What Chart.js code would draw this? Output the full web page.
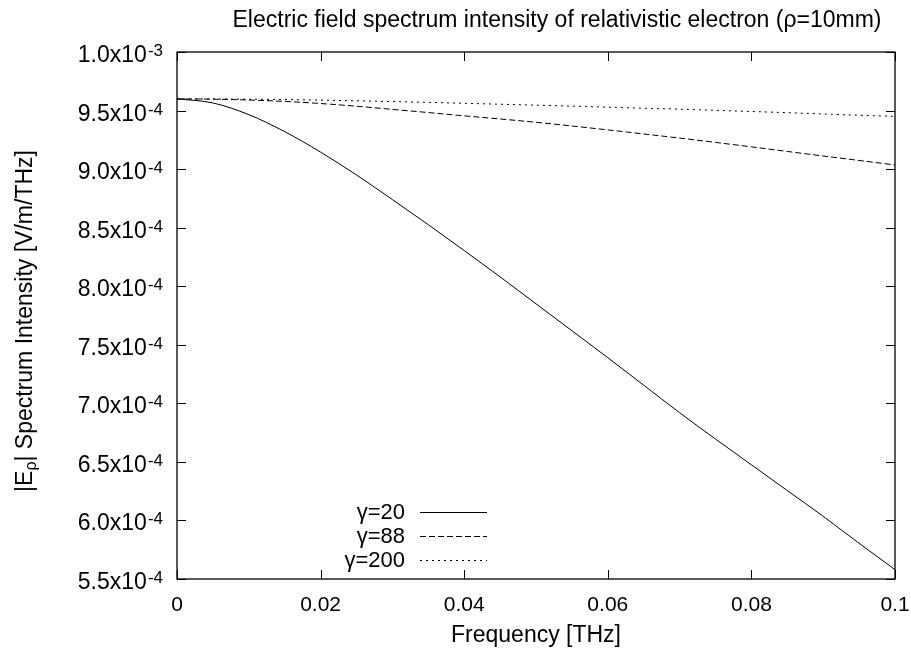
<!DOCTYPE html>
<html>
<head>
<meta charset="utf-8">
<script src="https://cdn.jsdelivr.net/npm/chart.js@4/dist/chart.umd.min.js"></script>
<style>
  html, body { margin: 0; padding: 0; background: #fff; }
  #wrap { width: 911px; height: 658px; }
</style>
</head>
<body>
<div id="wrap"><canvas id="chart" width="911" height="658"></canvas></div>
<script>
// frequency samples [THz]
const freq = [0, 0.005, 0.01, 0.015, 0.02, 0.025, 0.03, 0.035, 0.04, 0.045, 0.05,
              0.055, 0.06, 0.065, 0.07, 0.075, 0.08, 0.085, 0.09, 0.095, 0.1];
// |E_rho| [V/m/THz]
const gamma20  = [9.60e-4, 9.565e-4, 9.465e-4, 9.32e-4, 9.145e-4, 8.95e-4, 8.74e-4, 8.525e-4, 8.305e-4, 8.08e-4, 7.85e-4,
                  7.62e-4, 7.39e-4, 7.155e-4, 6.92e-4, 6.695e-4, 6.475e-4, 6.255e-4, 6.035e-4, 5.805e-4, 5.58e-4];
const gamma88  = [9.60e-4, 9.597e-4, 9.59e-4, 9.578e-4, 9.56e-4, 9.537e-4, 9.51e-4, 9.483e-4, 9.455e-4, 9.428e-4, 9.40e-4,
                  9.368e-4, 9.335e-4, 9.30e-4, 9.265e-4, 9.228e-4, 9.19e-4, 9.151e-4, 9.112e-4, 9.074e-4, 9.035e-4];
const gamma200 = [9.60e-4, 9.599e-4, 9.597e-4, 9.594e-4, 9.589e-4, 9.583e-4, 9.577e-4, 9.57e-4, 9.562e-4, 9.554e-4, 9.546e-4,
                  9.538e-4, 9.529e-4, 9.52e-4, 9.512e-4, 9.502e-4, 9.492e-4, 9.482e-4, 9.471e-4, 9.46e-4, 9.45e-4];
const seriesLabels = ['γ=20', 'γ=88', 'γ=200'];
const xTicks = [0, 0.02, 0.04, 0.06, 0.08, 0.1];

const FONT = "'Liberation Sans', Arial, Helvetica, sans-serif";

const toPoints = vals => freq.map((f, i) => ({ x: f, y: vals[i] }));

const dashes = [[], [6, 3], [2, 4]];

// gnuplot-like frame, mirrored ticks, labels and key
const gnuplotLook = {
    id: 'gnuplotLook',
    afterDraw(chart) {
        const { ctx, chartArea: a, scales: { x, y } } = chart;
        ctx.save();

        // frame
        ctx.strokeStyle = '#000';
        ctx.lineWidth = 1.3;
        ctx.setLineDash([]);
        ctx.strokeRect(a.left, a.top, a.right - a.left, a.bottom - a.top);

        // ticks, inward on all four sides
        ctx.lineWidth = 1;
        ctx.beginPath();
        y.ticks.forEach(t => {
            const py = Math.round(y.getPixelForValue(t.value)) + 0.5;
            ctx.moveTo(a.left, py); ctx.lineTo(a.left + 9, py);
            ctx.moveTo(a.right, py); ctx.lineTo(a.right - 9, py);
        });
        x.ticks.forEach(t => {
            const px = Math.round(x.getPixelForValue(t.value)) + 0.5;
            ctx.moveTo(px, a.bottom); ctx.lineTo(px, a.bottom - 9);
            ctx.moveTo(px, a.top); ctx.lineTo(px, a.top + 9);
        });
        ctx.stroke();

        ctx.fillStyle = '#000';

        // y tick labels with superscript exponent
        y.ticks.forEach(t => {
            const py = y.getPixelForValue(t.value);
            const parts = t.value.toExponential(1).split('e');
            const main = parts[0] + 'x10';
            const sup = String(parseInt(parts[1], 10));
            ctx.font = '17px ' + FONT;
            const supW = ctx.measureText(sup).width;
            ctx.textAlign = 'left';
            ctx.textBaseline = 'alphabetic';
            ctx.fillText(sup, 163 - supW, py + 4);
            ctx.font = '23px ' + FONT;
            ctx.textAlign = 'right';
            ctx.fillText(main, 163 - supW - 1, py + 10);
        });

        // title
        ctx.font = '23px ' + FONT;
        ctx.textAlign = 'center';
        ctx.textBaseline = 'middle';
        ctx.fillText('Electric field spectrum intensity of relativistic electron (ρ=10mm)', 557, 21);

        // x axis title
        ctx.font = '23px ' + FONT;
        ctx.fillText('Frequency [THz]', (a.left + a.right) / 2, 636);

        // y axis title with subscript rho
        ctx.save();
        ctx.translate(32, 321);
        ctx.rotate(-Math.PI / 2);
        const big = '23px ' + FONT, small = '16px ' + FONT;
        const p1 = '|E', p2 = 'ρ', p3 = '| Spectrum Intensity [V/m/THz]';
        ctx.font = big; const w1 = ctx.measureText(p1).width; const w3 = ctx.measureText(p3).width;
        ctx.font = small; const w2 = ctx.measureText(p2).width;
        let sx = -(w1 + w2 + w3) / 2;
        ctx.textAlign = 'left';
        ctx.textBaseline = 'alphabetic';
        ctx.font = big; ctx.fillText(p1, sx, 0); sx += w1;
        ctx.font = small; ctx.fillText(p2, sx, 4); sx += w2;
        ctx.font = big; ctx.fillText(p3, sx, 0);
        ctx.restore();

        // key
        const rows = [512, 536, 560];
        chart.data.datasets.forEach((ds, i) => {
            const ry = rows[i];
            ctx.font = '22px ' + FONT;
            ctx.textAlign = 'right';
            ctx.textBaseline = 'middle';
            ctx.fillText(ds.label, 405, ry + 1);
            ctx.strokeStyle = ds.borderColor;
            ctx.lineWidth = ds.borderWidth;
            ctx.setLineDash(ds.borderDash);
            ctx.beginPath();
            ctx.moveTo(420, ry + 0.5);
            ctx.lineTo(487, ry + 0.5);
            ctx.stroke();
        });

        ctx.restore();
    }
};

new Chart(document.getElementById('chart'), {
    type: 'line',
    data: {
        datasets: [gamma20, gamma88, gamma200].map((vals, i) => ({
            label: seriesLabels[i],
            data: toPoints(vals),
            borderColor: '#000',
            borderWidth: 1,
            borderDash: dashes[i],
            pointRadius: 0,
            fill: false,
            cubicInterpolationMode: 'monotone'
        }))
    },
    options: {
        responsive: false,
        animation: false,
        layout: { padding: { top: 52, right: 16, left: 0, bottom: 0 } },
        plugins: {
            legend: { display: false },
            title: { display: false },
            tooltip: { enabled: false }
        },
        scales: {
            x: {
                type: 'linear',
                min: 0,
                max: 0.1,
                grid: { display: false, drawTicks: false },
                border: { display: false },
                afterBuildTicks: scale => {
                    scale.ticks = xTicks.map(v => ({ value: v }));
                },
                afterFit: scale => {
                    scale.height = 79;
                    scale.paddingLeft = 0;
                    scale.paddingRight = 0;
                },
                ticks: {
                    padding: 14,
                    color: '#000',
                    font: { family: FONT, size: 21 },
                    maxRotation: 0,
                    callback: v => String(parseFloat(v.toFixed(2)))
                }
            },
            y: {
                min: 5.5e-4,
                max: 1.0e-3,
                grid: { display: false, drawTicks: false },
                border: { display: false },
                ticks: { stepSize: 0.5e-4, display: false },
                afterFit: scale => { scale.width = 177; }
            }
        }
    },
    plugins: [gnuplotLook]
});
</script>
</body>
</html>
